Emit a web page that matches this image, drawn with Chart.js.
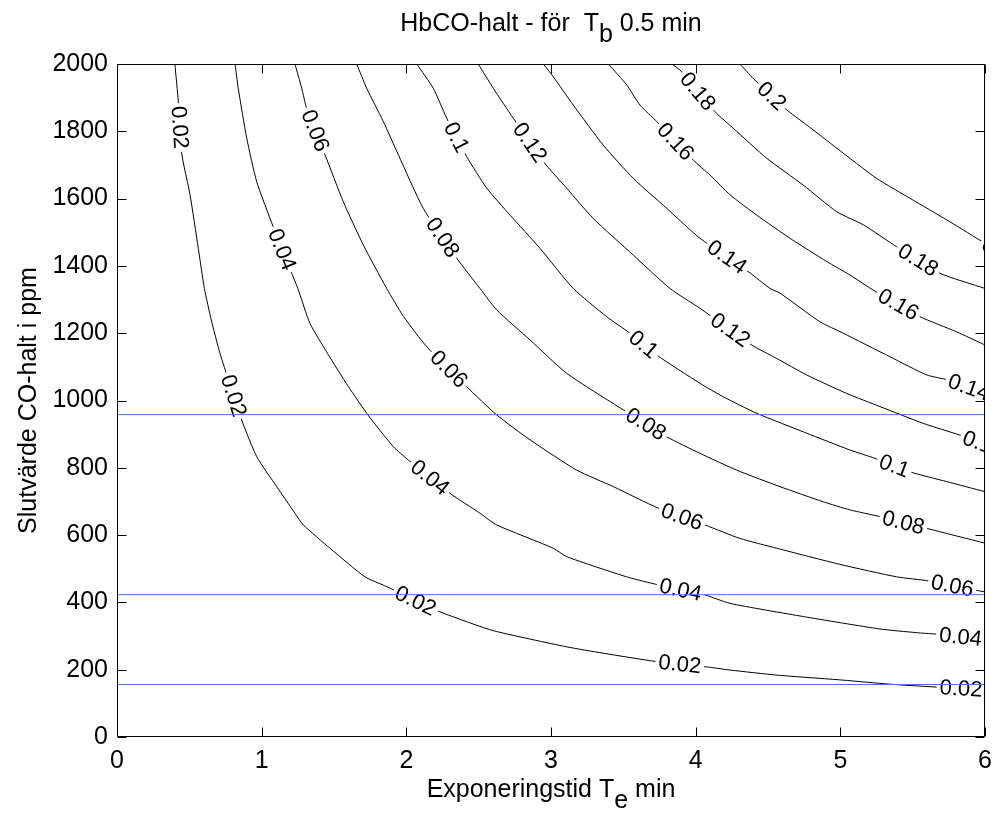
<!DOCTYPE html>
<html>
<head>
<meta charset="utf-8">
<script src="https://cdn.jsdelivr.net/npm/chart.js@4.4.1/dist/chart.umd.min.js"></script>
<style>
  html, body { margin: 0; padding: 0; background: #fff; overflow: hidden; }
  #contourChart { display: block; }
</style>
</head>
<body>
<canvas id="contourChart" width="995" height="816"></canvas>
<script>
// contour lines of HbCO level, [exposure time (min), CO ppm]
const curve002 = [[0.40,2000],[0.424,1888],[0.447,1735],[0.505,1611],[0.562,1452],[0.604,1333],[0.652,1239],[0.712,1140],[0.862,942],[0.966,833],[1.104,744],[1.230,665],[1.288,630],[1.472,561],[1.714,476],[1.864,447],[2.175,382],[2.325,357],[2.601,316],[3.108,268],[3.361,249],[3.731,224],[4.065,209],[4.238,199],[4.56,184],[5.02,169],[5.34,157],[5.64,149],[6.0,140]];
const curve004 = [[0.816,2000],[0.838,1928],[0.897,1779],[0.966,1650],[1.080,1516],[1.208,1378],[1.25,1333],[1.334,1229],[1.455,1140],[1.60,1041],[1.735,957],[1.910,863],[2.014,823],[2.302,724],[2.509,665],[2.625,630],[3.016,561],[3.108,536],[3.523,476],[3.742,452],[4.065,422],[4.238,397],[4.744,358],[5.274,321],[5.528,310],[5.654,306],[6.0,290]];
const curve006 = [[1.230,2000],[1.277,1928],[1.311,1868],[1.438,1730],[1.564,1591],[1.703,1462],[1.864,1333],[1.98,1250],[2.141,1160],[2.417,1041],[2.625,957],[2.855,883],[3.178,793],[3.431,744],[3.742,680],[4.065,630],[4.307,590],[4.560,561],[4.997,513],[5.389,476],[5.608,464],[6.0,431]];
const curve008 = [[1.657,2000],[1.726,1928],[1.841,1829],[1.945,1730],[2.117,1571],[2.348,1423],[2.509,1333],[2.625,1269],[2.855,1180],[3.108,1081],[3.500,972],[3.800,892],[4.03,843],[4.284,793],[4.583,744],[4.882,699],[5.066,675],[5.274,655],[5.597,620],[6.0,576]];
const curve010 = [[2.072,2000],[2.186,1928],[2.279,1839],[2.417,1725],[2.556,1631],[2.717,1551],[2.924,1452],[3.154,1333],[3.385,1249],[3.546,1200],[3.731,1135],[4.03,1051],[4.191,1011],[4.422,962],[4.767,903],[5.066,853],[5.240,828],[5.481,788],[5.735,759],[6.0,729]];
const curve012 = [[2.497,2000],[2.601,1928],[2.739,1839],[2.947,1710],[3.108,1631],[3.292,1541],[3.569,1432],[3.822,1333],[4.03,1274],[4.387,1165],[4.560,1125],[4.767,1076],[5.044,1021],[5.274,982],[5.573,932],[5.827,897],[6.0,868]];
const curve014 = [[2.947,2000],[3.016,1962],[3.154,1878],[3.361,1759],[3.569,1660],[3.800,1571],[4.03,1482],[4.364,1383],[4.514,1333],[4.583,1319],[4.859,1234],[5.020,1200],[5.343,1130],[5.597,1076],[5.746,1061],[6.0,1022]];
const curve016 = [[3.396,2000],[3.523,1938],[3.615,1878],[3.731,1829],[3.984,1714],[4.099,1670],[4.238,1611],[4.422,1551],[4.652,1482],[4.906,1413],[5.066,1373],[5.228,1328],[5.551,1249],[5.804,1204],[6.0,1165]];
const curve018 = [[3.834,2000],[3.892,1982],[4.134,1858],[4.260,1809],[4.491,1720],[4.744,1640],[4.975,1561],[5.159,1522],[5.389,1457],[5.689,1378],[6.0,1333]];
const curve020 = [[4.306,2000],[4.398,1957],[4.617,1868],[4.767,1819],[4.975,1750],[5.251,1660],[5.481,1601],[5.758,1531],[6.0,1467]];

const contourLevels = [0.02, 0.04, 0.06, 0.08, 0.1, 0.12, 0.14, 0.16, 0.18, 0.2];
const contourCurves = [curve002, curve004, curve006, curve008, curve010, curve012, curve014, curve016, curve018, curve020];

// inline labels: [level, x, y]
const labelSpots = [
    [0.02, 0.424, 1811], [0.02, 0.781, 1011], [0.02, 2.06, 401], [0.02, 3.89, 214], [0.02, 5.834, 140],
    [0.04, 1.113, 1444], [0.04, 2.150, 764], [0.04, 3.892, 430], [0.04, 5.83, 294],
    [0.06, 1.348, 1798], [0.06, 2.288, 1091], [0.06, 3.905, 654], [0.06, 5.772, 445],
    [0.08, 2.246, 1483], [0.08, 3.643, 921], [0.08, 5.433, 632],
    [0.1, 2.336, 1780], [0.1, 3.636, 1165], [0.1, 5.364, 795],
    [0.12, 2.848, 1765], [0.12, 4.230, 1204], [0.12, 5.99, 870],
    [0.14, 4.216, 1426], [0.14, 5.89, 1040],
    [0.16, 3.850, 1765], [0.16, 5.392, 1278],
    [0.18, 4.010, 1917], [0.18, 5.530, 1412],
    [0.2, 4.513, 1899], [0.2, 6.08, 1445]
];

// blue reference levels (ppm)
const refLevels = [958, 423, 156];

const xTicks = [0, 1, 2, 3, 4, 5, 6];
const yTicks = [0, 200, 400, 600, 800, 1000, 1200, 1400, 1600, 1800, 2000];

const FONT = "'Liberation Sans', Arial, Helvetica, sans-serif";
const labelFont = '22px ' + FONT;
const textFont = '25px ' + FONT;

Chart.defaults.color = '#000';
Chart.defaults.font.family = FONT;
Chart.defaults.font.size = 25;

const datasets = contourCurves.map((c, i) => ({
    label: 'HbCO ' + contourLevels[i],
    level: contourLevels[i],
    data: c.map(p => ({x: p[0], y: p[1]})),
    showLine: true,
    borderColor: '#000',
    borderWidth: 1,
    pointRadius: 0,
    tension: 0.2,
    order: 1
}));

refLevels.forEach(v => {
    datasets.push({
        label: v + ' ppm',
        data: [{x: 0, y: v}, {x: 6, y: v}],
        showLine: true,
        borderColor: '#4f72d4',
        borderWidth: 1,
        pointRadius: 0,
        order: 0
    });
});

const contourLabels = {
    id: 'contourLabels',
    afterDatasetDraw(chart, args) {
        const ds = chart.data.datasets[args.index];
        if (ds.level === undefined) return;
        const {ctx, chartArea} = chart;
        const xs = chart.scales.x, ys = chart.scales.y;
        const pts = ds.data.map(p => [xs.getPixelForValue(p.x), ys.getPixelForValue(p.y)]);
        ctx.save();
        ctx.beginPath();
        ctx.rect(chartArea.left, chartArea.top, chartArea.right - chartArea.left, chartArea.bottom - chartArea.top);
        ctx.clip();
        ctx.font = labelFont;
        ctx.textAlign = 'center';
        ctx.textBaseline = 'middle';
        labelSpots.filter(s => s[0] === ds.level).forEach(s => {
            const px = xs.getPixelForValue(s[1]);
            const py = ys.getPixelForValue(s[2]);
            let best = 0, bestD = Infinity;
            for (let i = 0; i < pts.length - 1; i++) {
                const dx = pts[i + 1][0] - pts[i][0], dy = pts[i + 1][1] - pts[i][1];
                let t = ((px - pts[i][0]) * dx + (py - pts[i][1]) * dy) / (dx * dx + dy * dy);
                t = Math.max(0, Math.min(1, t));
                const d = Math.hypot(pts[i][0] + t * dx - px, pts[i][1] + t * dy - py);
                if (d < bestD) { bestD = d; best = i; }
            }
            const a = pts[best], b = pts[best + 1];
            const dx = b[0] - a[0], dy = b[1] - a[1];
            const t = ((px - a[0]) * dx + (py - a[1]) * dy) / (dx * dx + dy * dy);
            const cx = a[0] + t * dx, cy = a[1] + t * dy;
            const text = String(s[0]);
            ctx.save();
            ctx.translate(cx, cy);
            ctx.rotate(Math.atan2(dy, dx));
            const w = ctx.measureText(text).width;
            ctx.fillStyle = '#fff';
            ctx.fillRect(-w / 2 - 3, -7, w + 6, 14);
            ctx.fillStyle = '#000';
            ctx.fillText(text, 0, 1);
            ctx.restore();
        });
        ctx.restore();
    }
};

// box round the axes with inward ticks, like the original
const axesBox = {
    id: 'axesBox',
    afterDraw(chart) {
        const {ctx, chartArea: a} = chart;
        const xs = chart.scales.x, ys = chart.scales.y;
        const L = 9;
        ctx.save();
        ctx.strokeStyle = '#000';
        ctx.lineWidth = 1;
        ctx.beginPath();
        const l = Math.round(a.left) + 0.5, r = Math.round(a.right) - 0.5;
        const t = Math.round(a.top) + 0.5, b = Math.round(a.bottom) - 0.5;
        ctx.rect(l, t, r - l, b - t);
        xTicks.forEach(v => {
            const x = Math.round(xs.getPixelForValue(v)) + 0.5;
            ctx.moveTo(x, b); ctx.lineTo(x, b - L);
            ctx.moveTo(x, t); ctx.lineTo(x, t + L);
        });
        yTicks.forEach(v => {
            const y = Math.round(ys.getPixelForValue(v)) + 0.5;
            ctx.moveTo(l, y); ctx.lineTo(l + L, y);
            ctx.moveTo(r, y); ctx.lineTo(r - L, y);
        });
        ctx.stroke();
        ctx.restore();
    }
};

function drawParts(ctx, parts, x, y) {
    // parts: [text, isSubscript]; drawn centred on x
    const widths = parts.map(p => ctx.measureText(p[0]).width);
    let cur = x - widths.reduce((s, w) => s + w, 0) / 2;
    parts.forEach((p, i) => {
        ctx.fillText(p[0], cur, p[1] ? y + 11 : y);
        cur += widths[i];
    });
}

const axisTexts = {
    id: 'axisTexts',
    afterDraw(chart) {
        const {ctx, chartArea: a} = chart;
        const cx = (a.left + a.right) / 2;
        ctx.save();
        ctx.fillStyle = '#000';
        ctx.font = textFont;
        ctx.textAlign = 'left';
        ctx.textBaseline = 'alphabetic';
        drawParts(ctx, [['HbCO-halt - för  T', false], ['b', true], [' 0.5 min', false]], cx, 31);
        drawParts(ctx, [['Exponeringstid T', false], ['e', true], [' min', false]], cx, 797);
        ctx.translate(36, (a.top + a.bottom) / 2);
        ctx.rotate(-Math.PI / 2);
        drawParts(ctx, [['Slutvärde CO-halt i ppm', false]], 0, 0);
        ctx.restore();
    }
};

new Chart(document.getElementById('contourChart'), {
    type: 'scatter',
    data: { datasets: datasets },
    options: {
        responsive: false,
        animation: false,
        layout: { padding: { left: 0, right: 10, top: 64, bottom: 0 } },
        plugins: {
            legend: { display: false },
            tooltip: { enabled: false },
            title: { display: false }
        },
        scales: {
            x: {
                type: 'linear',
                min: 0,
                max: 6,
                grid: { display: false, drawTicks: false },
                border: { display: false },
                ticks: { stepSize: 1, padding: 9, maxRotation: 0, callback: v => String(v) },
                afterFit(scale) {
                    scale.height = 79;
                    scale.paddingLeft = 0;
                    scale.paddingRight = 0;
                }
            },
            y: {
                type: 'linear',
                min: 0,
                max: 2000,
                grid: { display: false, drawTicks: false },
                border: { display: false },
                ticks: { stepSize: 200, padding: 9, callback: v => String(v) },
                afterFit(scale) {
                    scale.width = 117;
                    scale.paddingTop = 0;
                    scale.paddingBottom = 0;
                }
            }
        }
    },
    plugins: [contourLabels, axesBox, axisTexts]
});
</script>
</body>
</html>
